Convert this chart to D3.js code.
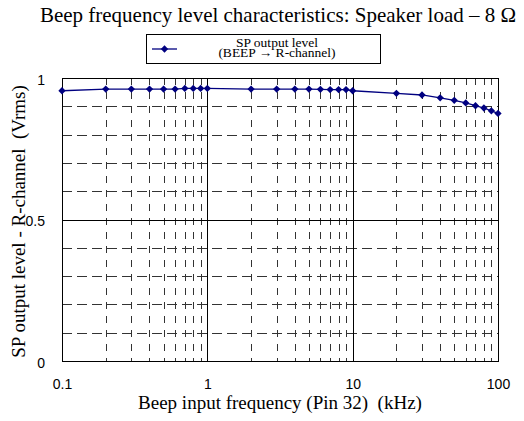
<!DOCTYPE html>
<html>
<head>
<meta charset="utf-8">
<script src="https://cdn.jsdelivr.net/npm/d3@7"></script>
<style>
  html, body { margin: 0; padding: 0; background: #fff; }
  svg { display: block; }
  text { white-space: pre; }
</style>
</head>
<body>
<svg id="chart" width="524" height="421"></svg>
<script>
// Beep input frequency (kHz) and measured SP output level (Vrms)
const freqs = [0.1, 0.2, 0.3, 0.4, 0.5, 0.6, 0.7, 0.8, 0.9, 1,
               2, 3, 4, 5, 6, 7, 8, 9, 10,
               20, 30, 40, 50, 60, 70, 80, 90, 100];
const levels = [0.955, 0.961, 0.961, 0.961, 0.961, 0.961, 0.963, 0.963, 0.963, 0.963,
                0.961, 0.961, 0.961, 0.961, 0.960, 0.959, 0.959, 0.959, 0.955,
                0.946, 0.940, 0.930, 0.921, 0.912, 0.902, 0.894, 0.884, 0.875];
const xTickLabels = ["0.1", "1", "10", "100"];
const yTickLabels = ["0", "0.5", "1"];

const titleText = "Beep frequency level characteristics: Speaker load \u2013 8 \u03A9";
const xTitle = "Beep input frequency (Pin 32)  (kHz)";
const yTitle = "SP output level - R-channel  (Vrms)";
const legendLines = ["SP output level", "(BEEP \u2192 R-channel)"];

const svg = d3.select("#chart");
const plot = { left: 62, right: 498, top: 78, bottom: 361 };
const serif = "'Liberation Serif', 'Times New Roman', serif";
const sans = "'Liberation Sans', Arial, sans-serif";
const lineColor = "#000080";

const x = d3.scaleLog().domain([0.1, 100]).range([plot.left, plot.right]);
const y = d3.scaleLinear().domain([0, 1]).range([plot.bottom, plot.top]);

// Gridlines: minor decade lines dashed, decade lines solid
const minorX = [];
[0.1, 1, 10].forEach(d => { for (let k = 2; k <= 9; k++) minorX.push(+(d * k).toPrecision(3)); });
const majorX = [1, 10];
const minorY = [0.1, 0.2, 0.3, 0.4, 0.6, 0.7, 0.8, 0.9];
const majorY = [0.5];

const grid = svg.append("g").attr("shape-rendering", "crispEdges");
grid.selectAll(".hminor").data(minorY).join("line")
  .attr("x1", plot.left).attr("x2", plot.right)
  .attr("y1", d => Math.round(y(d)) + 0.5).attr("y2", d => Math.round(y(d)) + 0.5)
  .attr("stroke", "#333").attr("stroke-width", 1).attr("stroke-dasharray", "10,5");
grid.selectAll(".vminor").data(minorX).join("line")
  .attr("x1", d => Math.round(x(d)) + 0.5).attr("x2", d => Math.round(x(d)) + 0.5)
  .attr("y1", plot.top).attr("y2", plot.bottom)
  .attr("stroke", "#333").attr("stroke-width", 1).attr("stroke-dasharray", "7,7");
grid.selectAll(".hmajor").data(majorY).join("line")
  .attr("x1", plot.left).attr("x2", plot.right)
  .attr("y1", d => Math.round(y(d)) + 0.5).attr("y2", d => Math.round(y(d)) + 0.5)
  .attr("stroke", "#000").attr("stroke-width", 1);
grid.selectAll(".vmajor").data(majorX).join("line")
  .attr("x1", d => Math.round(x(d)) + 0.5).attr("x2", d => Math.round(x(d)) + 0.5)
  .attr("y1", plot.top).attr("y2", plot.bottom)
  .attr("stroke", "#000").attr("stroke-width", 1);

// Plot frame
svg.append("rect")
  .attr("x", plot.left + 0.5).attr("y", plot.top + 0.5)
  .attr("width", plot.right - plot.left).attr("height", plot.bottom - plot.top)
  .attr("fill", "none").attr("stroke", "#000").attr("stroke-width", 1.5)
  .attr("shape-rendering", "crispEdges");

// Axis labels through d3 axes (no domain path, no tick lines)
const xAxis = d3.axisBottom(x)
  .tickValues(xTickLabels.map(Number))
  .tickFormat((d, i) => xTickLabels[i])
  .tickSize(0).tickPadding(0);
const gx = svg.append("g").attr("transform", `translate(0,${plot.bottom + 28})`).call(xAxis);
gx.select(".domain").remove();
gx.selectAll("text").attr("font-family", sans).attr("font-size", 14).attr("fill", "#000").attr("dy", null);

const yAxis = d3.axisLeft(y)
  .tickValues(yTickLabels.map(Number))
  .tickFormat((d, i) => yTickLabels[i])
  .tickSize(0).tickPadding(0);
const gy = svg.append("g").attr("transform", `translate(${plot.left - 17},2)`).call(yAxis);
gy.select(".domain").remove();
gy.selectAll("text").attr("font-family", sans).attr("font-size", 14).attr("fill", "#000");

// Data line and diamond markers
const pts = freqs.map((f, i) => [f, levels[i]]);
svg.append("path")
  .datum(pts)
  .attr("d", d3.line().x(d => x(d[0])).y(d => y(d[1])))
  .attr("fill", "none").attr("stroke", lineColor).attr("stroke-width", 1.3);
const diamond = d3.symbol().type(d3.symbolDiamond2).size(34);
svg.selectAll(".pt").data(pts).join("path")
  .attr("transform", d => `translate(${x(d[0])},${y(d[1])})`)
  .attr("d", diamond).attr("fill", lineColor);

// Title
svg.append("text")
  .attr("x", 278).attr("y", 22).attr("text-anchor", "middle")
  .attr("font-family", serif).attr("font-size", 21).attr("fill", "#000")
  .text(titleText);

// Axis titles
svg.append("text")
  .attr("x", 280).attr("y", 409).attr("text-anchor", "middle")
  .attr("font-family", serif).attr("font-size", 19).attr("fill", "#000")
  .text(xTitle);
svg.append("text")
  .attr("transform", `translate(25,${(plot.top + plot.bottom) / 2 + 2}) rotate(-90)`)
  .attr("text-anchor", "middle")
  .attr("font-family", serif).attr("font-size", 19).attr("fill", "#000")
  .text(yTitle);

// Legend
const lg = svg.append("g");
lg.append("rect").attr("x", 146.5).attr("y", 34.5).attr("width", 234).attr("height", 29)
  .attr("fill", "#fff").attr("stroke", "#000").attr("stroke-width", 1);
lg.append("line").attr("x1", 152).attr("x2", 177).attr("y1", 49).attr("y2", 49)
  .attr("stroke", lineColor).attr("stroke-width", 1.3);
lg.append("path").attr("transform", "translate(164.5,49)").attr("d", diamond).attr("fill", lineColor);
lg.selectAll(".lt").data(legendLines).join("text")
  .attr("x", 277).attr("y", (d, i) => 47.3 + i * 9.6)
  .attr("text-anchor", "middle")
  .attr("font-family", serif).attr("font-size", 13.5).attr("fill", "#000")
  .text(d => d);
</script>
</body>
</html>
